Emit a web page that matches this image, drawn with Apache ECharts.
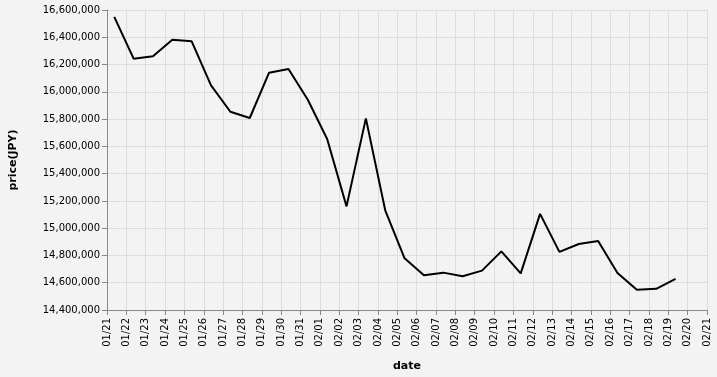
<!DOCTYPE html>
<html>
<head>
<meta charset="utf-8">
<script src="https://cdn.jsdelivr.net/npm/echarts@6/dist/echarts.min.js"></script>
<style>
html,body{margin:0;padding:0;background:#f3f3f3;}
#chart{width:717px;height:377px;}
</style>
</head>
<body>
<div id="chart"></div>
<script>
// Data
const dates = ["01/21","01/22","01/23","01/24","01/25","01/26","01/27","01/28","01/29","01/30",
  "01/31","02/01","02/02","02/03","02/04","02/05","02/06","02/07","02/08","02/09",
  "02/10","02/11","02/12","02/13","02/14","02/15","02/16","02/17","02/18","02/19"];
const prices = [16550000,16243000,16260000,16382000,16370000,16047000,15854000,15808000,16140000,16167000,
  15942000,15654000,15160000,15805000,15131000,14779000,14654000,14674000,14647000,14689000,
  14830000,14669000,15105000,14826000,14884000,14906000,14672000,14549000,14555000,14628000];
const yTicks = {min:14400000, max:16600000, step:200000};
const xRange = {start:"01/21", end:"02/21"};
const year = 2025;
const hourOfDay = 9;

const DAY = 86400000;
function toMs(md, h){ const [m,d] = md.split('/').map(Number); return Date.UTC(year, m-1, d, h||0); }
const seriesData = dates.map((d,i)=>[toMs(d,hourOfDay), prices[i]]);
const pad = n => (n<10?'0':'')+n;

const chart = echarts.init(document.getElementById('chart'), null, {renderer:'canvas'});
chart.setOption({
  backgroundColor:'#f3f3f3',
  animation:false,
  grid:{left:107,right:10,top:10,bottom:67,containLabel:false,outerBoundsMode:'none'},
  xAxis:{
    type:'value',
    min:toMs(xRange.start,0), max:toMs(xRange.end,0), interval:DAY,
    name:'date', nameLocation:'middle', nameGap:51,
    nameTextStyle:{fontFamily:'DejaVu Sans',fontSize:11,fontWeight:'bold',color:'#000'},
    axisLine:{show:true,lineStyle:{color:'#888',width:1}},
    axisTick:{show:true,length:5,lineStyle:{color:'#888'}},
    axisLabel:{rotate:90,margin:8,fontFamily:'DejaVu Sans',fontSize:10,color:'#000',
      formatter:v=>{const t=new Date(v);return pad(t.getUTCMonth()+1)+'/'+pad(t.getUTCDate());},
      showMinLabel:true,showMaxLabel:true},
    splitLine:{show:true,lineStyle:{color:'#dddddd',width:1}}
  },
  yAxis:{
    type:'value', min:yTicks.min, max:yTicks.max, interval:yTicks.step,
    name:'price(JPY)', nameLocation:'middle', nameGap:88, nameRotate:90,
    nameTextStyle:{fontFamily:'DejaVu Sans',fontSize:11,fontWeight:'bold',color:'#000'},
    axisLine:{show:true,lineStyle:{color:'#888',width:1}},
    axisTick:{show:true,length:5,lineStyle:{color:'#888'}},
    axisLabel:{margin:7,fontFamily:'DejaVu Sans',fontSize:10,color:'#000',
      formatter:v=>v.toLocaleString('en-US')},
    splitLine:{show:true,lineStyle:{color:'#dddddd',width:1}}
  },
  series:[{
    type:'line', data:seriesData, showSymbol:false, symbol:'none',
    lineStyle:{color:'#000',width:2}, itemStyle:{color:'#000'}
  }]
});
</script>
</body>
</html>
